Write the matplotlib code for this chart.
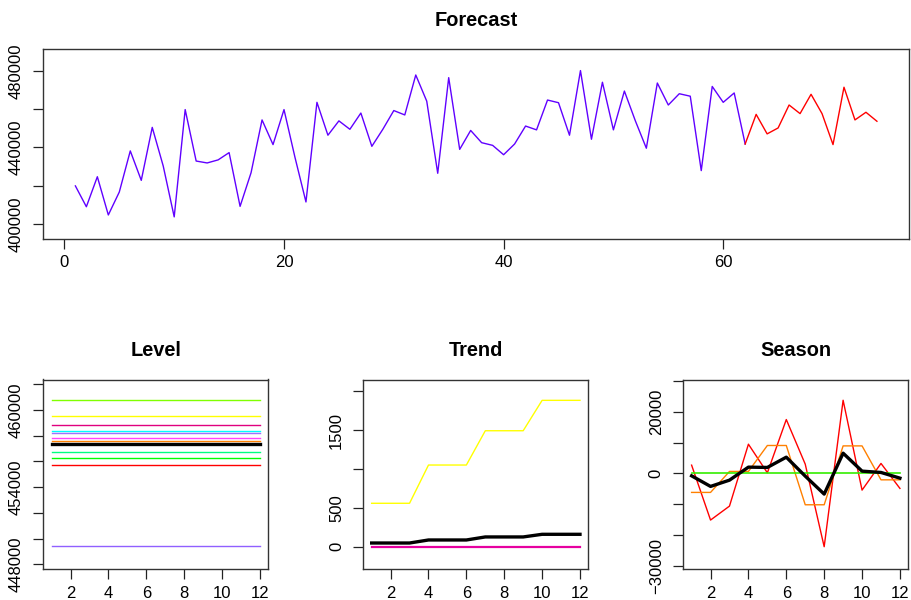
"""
Forecast / Level / Trend / Season panels (R base graphics look).
"""

import matplotlib
matplotlib.use("Agg")
import matplotlib.pyplot as plt

plt.rcParams['font.family'] = ['Liberation Sans', 'DejaVu Sans']
plt.rcParams['font.size'] = 12

# --- Forecast: history (1..62) and forecast (62..74) ---
hist_x = list(range(1, 63))
hist_y = [419900, 409000, 424700, 404700, 416700, 438200, 422800, 450500, 430300, 403700,
          459800, 432900, 431900, 433500, 437300, 409200, 426800, 454400, 441500, 459800,
          434800, 411500, 463600, 446400, 453900, 449500, 458000, 440600, 449500, 459300,
          457000, 477900, 464200, 426500, 476500, 439000, 448900, 442500, 441100, 436200,
          441800, 451200, 449200, 464800, 463400, 446400, 480200, 444300, 474100, 449200,
          469500, 453900, 439600, 473700, 462200, 468100, 466800, 427900, 471900, 463600,
          468500, 441800]
fc_x = list(range(62, 75))
fc_y = [441800, 457300, 447100, 450200, 462200, 457700, 467800, 457700, 441500, 471500,
        454400, 458400, 453700]

# --- Level (one value per model, constant over horizon 1..12) ---
horizon = list(range(1, 13))
level_values = [455700, 457600, 459540, 460786, 456240, 456740, 458340, 457380,
                449400, 458220, 457850, 458840]
level_colors = ['#FF0000', '#FF8000', '#FFFF00', '#80FF00', '#00FF00', '#00FF80',
                '#00FFFF', '#0080FF', '#9060FF', '#A070FF', '#FF44FF', '#E0007F']
level_mean = 457330

# --- Trend ---
trend_yellow = [558, 558, 558, 1050, 1050, 1050, 1491, 1491, 1491, 1882, 1882, 1882]
trend_zero = [0] * 12
trend_mean = [47, 47, 47, 86, 86, 86, 125, 125, 125, 159, 159, 159]

# --- Season ---
season_red = [2700, -15160, -10620, 9510, 200, 17530, 3020, -23830, 23800, -5420, 3250, -4870]
season_orange = [-6170, -6170, 650, 650, 9090, 9090, -10190, -10190, 8960, 8960, -2080, -2080]
season_green = [0] * 12
season_mean = [-780, -4220, -2180, 2050, 1950, 5290, -870, -6720, 6590, 750, 320, -1530]


def r_style(ax, xticks, xlabels, yticks, ylabels):
    """Оформление осей в стиле базовой графики R."""
    ax.set_xticks(xticks)
    ax.set_xticklabels(xlabels)
    ax.set_yticks(yticks)
    ax.set_yticklabels(ylabels, rotation=90, va='center')
    ax.tick_params(axis='both', direction='out', length=7, width=0.9, color='#222222',
                   labelsize=12)
    ax.tick_params(axis='x', pad=5)
    ax.tick_params(axis='y', pad=7)
    for s in ax.spines.values():
        s.set_linewidth(1.0)
        s.set_color('#333333')


fig = plt.figure(figsize=(9.12, 6.0), dpi=100)

# Forecast
ax = fig.add_axes([0.0475, 0.6022, 0.9492, 0.3157])
ax.plot(hist_x, hist_y, color='#6000FF', lw=1.0)
ax.plot(fc_x, fc_y, color='#FF0000', lw=1.0)
ax.set_xlim(1 - 2.92, 74 + 2.92)
ax.set_ylim(392300, 491350)
r_style(ax, [0, 20, 40, 60], ['0', '20', '40', '60'],
        [400000, 420000, 440000, 460000, 480000],
        ['400000', '', '440000', '', '480000'])
ax.set_title('Forecast', fontsize=14.4, fontweight='bold', pad=17)

bottom_ticks = [2, 4, 6, 8, 10, 12]
bottom_labels = [str(t) for t in bottom_ticks]

# Level
ax = fig.add_axes([0.0475, 0.0517, 0.2467, 0.3158])
for val, col in zip(level_values, level_colors):
    ax.plot(horizon, [val] * len(horizon), color=col, lw=1.0)
ax.plot(horizon, [level_mean] * len(horizon), color='black', lw=2.4)
ax.set_xlim(0.56, 12.44)
ax.set_ylim(447634, 462366)
r_style(ax, bottom_ticks, bottom_labels,
        [448000, 450000, 452000, 454000, 456000, 458000, 460000, 462000],
        ['448000', '', '', '454000', '', '', '460000', ''])
ax.set_title('Level', fontsize=14.4, fontweight='bold', pad=17)

# Trend
ax = fig.add_axes([0.3984, 0.0517, 0.2467, 0.3158])
ax.plot(horizon, trend_yellow, color='#FFFF00', lw=1.0)
ax.plot(horizon, trend_mean, color='black', lw=2.4)
ax.plot(horizon, trend_zero, color='#E600A0', lw=1.6)
ax.set_xlim(0.56, 12.44)
ax.set_ylim(-287, 2150)
r_style(ax, bottom_ticks, bottom_labels,
        [0, 500, 1000, 1500, 2000], ['0', '500', '', '1500', ''])
ax.set_title('Trend', fontsize=14.4, fontweight='bold', pad=17)

# Season
ax = fig.add_axes([0.7492, 0.0517, 0.2467, 0.3158])
ax.plot(horizon, season_red, color='#FF0000', lw=1.0)
ax.plot(horizon, season_orange, color='#FF8000', lw=1.0)
ax.plot(horizon, season_green, color='#33EE00', lw=1.2)
ax.plot(horizon, season_mean, color='black', lw=2.4)
ax.set_xlim(0.56, 12.44)
ax.set_ylim(-31070, 30550)
r_style(ax, bottom_ticks, bottom_labels,
        [-30000, -20000, -10000, 0, 10000, 20000, 30000],
        ['\u221230000', '', '', '0', '', '20000', ''])
ax.set_title('Season', fontsize=14.4, fontweight='bold', pad=17)

fig.savefig('out.png', dpi=100)
